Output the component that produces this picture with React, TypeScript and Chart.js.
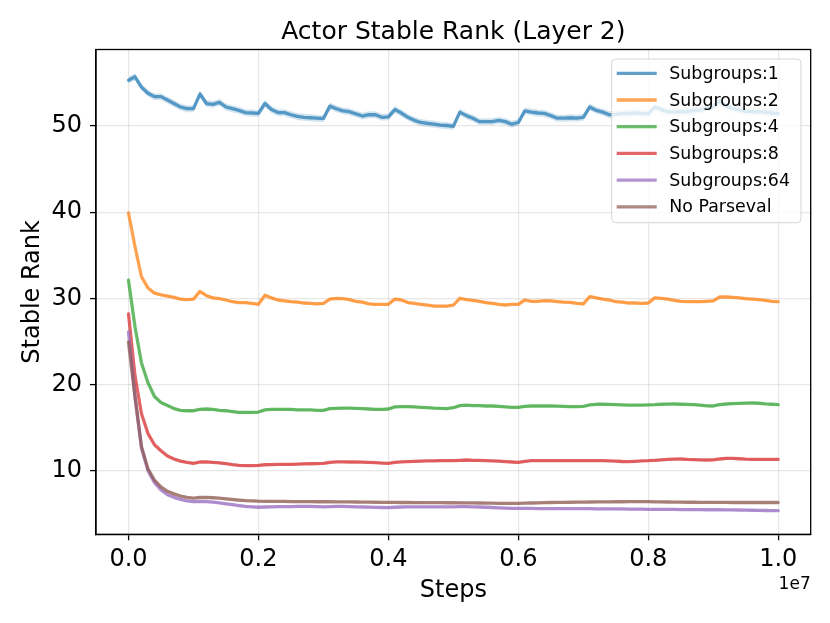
import React, { useEffect, useRef } from "react";
import { Chart, registerables } from "chart.js";

Chart.register(...registerables);

// x positions in units of 1e7 environment steps
const STEPS = [
  0, 0.01, 0.02, 0.03, 0.04, 0.05, 0.06, 0.07, 0.08, 0.09,
  0.1, 0.11, 0.12, 0.13, 0.14, 0.15, 0.16, 0.17, 0.18, 0.19,
  0.2, 0.21, 0.22, 0.23, 0.24, 0.25, 0.26, 0.27, 0.28, 0.29,
  0.3, 0.31, 0.32, 0.33, 0.34, 0.35, 0.36, 0.37, 0.38, 0.39,
  0.4, 0.41, 0.42, 0.43, 0.44, 0.45, 0.46, 0.47, 0.48, 0.49,
  0.5, 0.51, 0.52, 0.53, 0.54, 0.55, 0.56, 0.57, 0.58, 0.59,
  0.6, 0.61, 0.62, 0.63, 0.64, 0.65, 0.66, 0.67, 0.68, 0.69,
  0.7, 0.71, 0.72, 0.73, 0.74, 0.75, 0.76, 0.77, 0.78, 0.79,
  0.8, 0.81, 0.82, 0.83, 0.84, 0.85, 0.86, 0.87, 0.88, 0.89,
  0.9, 0.91, 0.92, 0.93, 0.94, 0.95, 0.96, 0.97, 0.98, 0.99,
  1.0,
];

const SUBGROUPS_1 = [
  55.3, 55.7, 54.5, 53.8, 53.4, 53.4, 53.0, 52.6, 52.2, 52.0,
  52.0, 53.7, 52.6, 52.5, 52.75, 52.2, 52.0, 51.8, 51.55, 51.5,
  51.45, 52.6, 51.9, 51.55, 51.55, 51.3, 51.1, 51.0, 50.95, 50.9,
  50.85, 52.3, 52.0, 51.75, 51.65, 51.4, 51.15, 51.3, 51.3, 51.0,
  51.05, 51.9, 51.5, 51.0, 50.65, 50.4, 50.3, 50.2, 50.1, 50.05,
  49.95, 51.6, 51.2, 50.9, 50.5, 50.5, 50.5, 50.65, 50.5, 50.2,
  50.4, 51.75, 51.6, 51.5, 51.45, 51.2, 50.9, 50.9, 50.95, 50.9,
  51.0, 52.2, 51.8, 51.6, 51.3, 51.35, 51.45, 51.45, 51.5, 51.45,
  51.4, 52.2, 51.9, 51.65, 51.6, 51.65, 51.65, 51.8, 51.85, 52.1,
  52.25, 52.9, 52.3, 52.0, 51.85, 51.7, 51.65, 51.65, 51.6, 51.5,
  51.45,
];

const SUBGROUPS_2 = [
  39.9, 36.0, 32.5, 31.2, 30.6, 30.4, 30.25, 30.1, 29.9, 29.85,
  29.9, 30.8, 30.3, 30.05, 29.95, 29.8, 29.6, 29.5, 29.5, 29.4,
  29.3, 30.35, 30.05, 29.8, 29.7, 29.6, 29.55, 29.45, 29.4, 29.35,
  29.4, 29.9, 30.0, 29.95, 29.85, 29.65, 29.55, 29.35, 29.3, 29.3,
  29.3, 29.9, 29.8, 29.5, 29.4, 29.3, 29.2, 29.1, 29.1, 29.1,
  29.2, 30.0, 29.85, 29.75, 29.65, 29.5, 29.42, 29.3, 29.22, 29.3,
  29.3, 29.8, 29.65, 29.65, 29.72, 29.7, 29.62, 29.55, 29.52, 29.4,
  29.35, 30.2, 30.05, 29.9, 29.8, 29.6, 29.55, 29.45, 29.45, 29.4,
  29.45, 30.05, 30.0, 29.9, 29.75, 29.65, 29.6, 29.6, 29.6, 29.65,
  29.7, 30.15, 30.15, 30.1, 30.05, 29.95, 29.9, 29.85, 29.75, 29.65,
  29.6,
];

const SUBGROUPS_4 = [
  32.1, 26.7, 22.5, 20.2, 18.6, 17.9, 17.55, 17.2, 17.0, 16.95,
  16.95, 17.1, 17.15, 17.1, 17.0, 16.95, 16.85, 16.75, 16.75, 16.75,
  16.8, 17.05, 17.1, 17.1, 17.1, 17.1, 17.05, 17.05, 17.05, 17.0,
  17.0, 17.2, 17.23, 17.25, 17.25, 17.23, 17.2, 17.15, 17.1, 17.1,
  17.15, 17.4, 17.42, 17.42, 17.4, 17.35, 17.3, 17.25, 17.23, 17.2,
  17.3, 17.55, 17.6, 17.55, 17.55, 17.5, 17.5, 17.45, 17.4, 17.35,
  17.35, 17.45, 17.5, 17.5, 17.5, 17.5, 17.48, 17.45, 17.42, 17.42,
  17.45, 17.62, 17.7, 17.7, 17.68, 17.65, 17.62, 17.6, 17.6, 17.6,
  17.62, 17.65, 17.7, 17.72, 17.73, 17.7, 17.68, 17.65, 17.6, 17.52,
  17.5, 17.65, 17.73, 17.78, 17.8, 17.83, 17.85, 17.82, 17.75, 17.7,
  17.65,
];

const SUBGROUPS_8 = [
  28.2, 21.0, 16.6, 14.3, 13.0, 12.3, 11.7, 11.35, 11.1, 10.95,
  10.85, 11.0, 11.02, 10.95, 10.9, 10.8, 10.7, 10.62, 10.58, 10.57,
  10.6, 10.68, 10.7, 10.72, 10.72, 10.73, 10.75, 10.78, 10.8, 10.82,
  10.85, 10.95, 11.02, 11.02, 11.0, 11.0, 10.98, 10.95, 10.92, 10.88,
  10.85, 10.95, 11.02, 11.05, 11.08, 11.1, 11.12, 11.13, 11.15, 11.15,
  11.15, 11.2, 11.23, 11.2, 11.18, 11.15, 11.12, 11.1, 11.05, 11.0,
  10.96, 11.08, 11.15, 11.15, 11.15, 11.15, 11.15, 11.15, 11.15, 11.15,
  11.15, 11.15, 11.15, 11.15, 11.12, 11.1, 11.06, 11.04, 11.08, 11.12,
  11.15, 11.2, 11.25, 11.3, 11.33, 11.35, 11.3, 11.27, 11.24, 11.23,
  11.24, 11.35, 11.42, 11.42, 11.38, 11.33, 11.31, 11.3, 11.3, 11.3,
  11.3,
];

const SUBGROUPS_64 = [
  26.1, 18.6, 12.6, 10.0, 8.6, 7.75, 7.2, 6.9, 6.65, 6.5,
  6.4, 6.42, 6.4, 6.35, 6.25, 6.15, 6.05, 5.95, 5.85, 5.8,
  5.75, 5.78, 5.8, 5.82, 5.83, 5.83, 5.84, 5.85, 5.85, 5.83,
  5.8, 5.82, 5.85, 5.85, 5.82, 5.8, 5.78, 5.76, 5.74, 5.72,
  5.7, 5.75, 5.78, 5.8, 5.8, 5.8, 5.8, 5.8, 5.8, 5.8,
  5.8, 5.82, 5.82, 5.8, 5.78, 5.75, 5.72, 5.68, 5.65, 5.63,
  5.62, 5.62, 5.62, 5.6, 5.6, 5.6, 5.6, 5.58, 5.58, 5.58,
  5.58, 5.58, 5.56, 5.56, 5.55, 5.55, 5.55, 5.53, 5.52, 5.52,
  5.51, 5.51, 5.5, 5.5, 5.5, 5.48, 5.48, 5.47, 5.47, 5.46,
  5.46, 5.46, 5.45, 5.44, 5.43, 5.42, 5.4, 5.38, 5.37, 5.36,
  5.35,
];

const NO_PARSEVAL = [
  24.9, 18.6, 12.8, 10.2, 8.9, 8.1, 7.6, 7.3, 7.05, 6.9,
  6.8, 6.88, 6.9, 6.85, 6.8, 6.72, 6.65, 6.58, 6.52, 6.48,
  6.45, 6.44, 6.43, 6.42, 6.42, 6.41, 6.4, 6.4, 6.4, 6.39,
  6.39, 6.39, 6.38, 6.38, 6.37, 6.36, 6.35, 6.34, 6.33, 6.32,
  6.31, 6.31, 6.3, 6.3, 6.29, 6.28, 6.28, 6.28, 6.28, 6.27,
  6.27, 6.26, 6.26, 6.25, 6.24, 6.23, 6.22, 6.21, 6.2, 6.2,
  6.2, 6.22, 6.24, 6.26, 6.28, 6.3, 6.31, 6.32, 6.33, 6.34,
  6.35, 6.36, 6.37, 6.38, 6.38, 6.39, 6.39, 6.4, 6.4, 6.4,
  6.4, 6.38, 6.37, 6.36, 6.35, 6.34, 6.33, 6.33, 6.32, 6.32,
  6.31, 6.31, 6.31, 6.3, 6.3, 6.3, 6.3, 6.3, 6.3, 6.3,
  6.3,
];

const SERIES_VALUES = [SUBGROUPS_1, SUBGROUPS_2, SUBGROUPS_4, SUBGROUPS_8, SUBGROUPS_64, NO_PARSEVAL];
const SERIES_LABELS = ["Subgroups:1", "Subgroups:2", "Subgroups:4", "Subgroups:8", "Subgroups:64", "No Parseval"];
const SERIES_RGB = ["31,119,180", "255,127,14", "44,160,44", "214,39,40", "148,103,189", "140,86,75"];
// estimated half-width of the shaded spread band per series
const BAND_HALF = [0.4, 0.15, 0.12, 0.12, 0.15, 0.15];

const X_TICKS = [0, 0.2, 0.4, 0.6, 0.8, 1.0];
const Y_TICKS = [10, 20, 30, 40, 50];

const TITLE = "Actor Stable Rank (Layer 2)";
const X_LABEL = "Steps";
const Y_LABEL = "Stable Rank";
const X_OFFSET_TEXT = "1e7";

const FONT = '"DejaVu Sans", "Liberation Sans", sans-serif';

const overlayPlugin = {
  id: "mplOverlay",
  afterDatasetsDraw(chart: any) {
    const { ctx, chartArea: a } = chart;
    ctx.save();
    ctx.strokeStyle = "#000";
    ctx.lineWidth = 1.3;
    ctx.strokeRect(a.left, a.top, a.right - a.left, a.bottom - a.top);
    ctx.restore();
  },
  afterDraw(chart: any) {
    const { ctx, chartArea: a } = chart;
    ctx.save();
    // title
    ctx.fillStyle = "#000";
    ctx.font = `25px ${FONT}`;
    ctx.textAlign = "center";
    ctx.textBaseline = "middle";
    ctx.fillText(TITLE, (a.left + a.right) / 2, 32);
    // offset text
    ctx.font = `17px ${FONT}`;
    ctx.textAlign = "right";
    ctx.fillText(X_OFFSET_TEXT, a.right, 585);

    // legend (inside axes, upper right)
    const boxW = 189.3;
    const boxH = 163.7;
    const boxX = a.right - 9.7 - boxW;
    const boxY = a.top + 9.5;
    const r = 4;
    ctx.beginPath();
    ctx.moveTo(boxX + r, boxY);
    ctx.lineTo(boxX + boxW - r, boxY);
    ctx.quadraticCurveTo(boxX + boxW, boxY, boxX + boxW, boxY + r);
    ctx.lineTo(boxX + boxW, boxY + boxH - r);
    ctx.quadraticCurveTo(boxX + boxW, boxY + boxH, boxX + boxW - r, boxY + boxH);
    ctx.lineTo(boxX + r, boxY + boxH);
    ctx.quadraticCurveTo(boxX, boxY + boxH, boxX, boxY + boxH - r);
    ctx.lineTo(boxX, boxY + r);
    ctx.quadraticCurveTo(boxX, boxY, boxX + r, boxY);
    ctx.closePath();
    ctx.fillStyle = "rgba(255,255,255,0.8)";
    ctx.fill();
    ctx.strokeStyle = "rgba(204,204,204,0.8)";
    ctx.lineWidth = 1;
    ctx.stroke();

    ctx.font = `17.4px ${FONT}`;
    ctx.textAlign = "left";
    ctx.textBaseline = "middle";
    SERIES_LABELS.forEach((label, i) => {
      const cy = boxY + 14.3 + i * 26.7;
      ctx.strokeStyle = `rgba(${SERIES_RGB[i]},0.7)`;
      ctx.lineWidth = 3.3;
      ctx.beginPath();
      ctx.moveTo(boxX + 5, cy);
      ctx.lineTo(boxX + 45, cy);
      ctx.stroke();
      ctx.fillStyle = "#000";
      ctx.fillText(label, boxX + 57.6, cy + 1);
    });
    ctx.restore();
  },
};

export default function App() {
  const canvasRef = useRef<HTMLCanvasElement | null>(null);

  useEffect(() => {
    const canvas = canvasRef.current;
    if (!canvas) return;

    const datasets: any[] = [];
    SERIES_VALUES.forEach((vals, i) => {
      const base = (SERIES_VALUES.length - 1 - i) * 10;
      const rgb = SERIES_RGB[i];
      datasets.push({
        label: SERIES_LABELS[i] + " lower",
        data: STEPS.map((x, k) => ({ x, y: vals[k] - BAND_HALF[i] })),
        borderWidth: 0,
        pointRadius: 0,
        fill: false,
        order: base + 2,
      });
      datasets.push({
        label: SERIES_LABELS[i] + " upper",
        data: STEPS.map((x, k) => ({ x, y: vals[k] + BAND_HALF[i] })),
        borderWidth: 0,
        pointRadius: 0,
        fill: "-1",
        backgroundColor: `rgba(${rgb},0.2)`,
        order: base + 1,
      });
      datasets.push({
        label: SERIES_LABELS[i],
        data: STEPS.map((x, k) => ({ x, y: vals[k] })),
        borderColor: `rgba(${rgb},0.7)`,
        borderWidth: 3.3,
        pointRadius: 0,
        fill: false,
        tension: 0,
        borderJoinStyle: "round",
        borderCapStyle: "round",
        order: base,
      });
    });

    const tickFont = { family: FONT, size: 24 };
    const chart = new Chart(canvas, {
      type: "line",
      data: { datasets },
      plugins: [overlayPlugin],
      options: {
        animation: false,
        responsive: false,
        devicePixelRatio: 1,
        layout: { padding: { top: 49.5, right: 19.3, bottom: 0, left: 0 } },
        plugins: {
          legend: { display: false },
          title: { display: false },
          tooltip: { enabled: false },
        },
        scales: {
          x: {
            type: "linear",
            min: -0.05,
            max: 1.05,
            afterBuildTicks: (scale: any) => {
              scale.ticks = X_TICKS.map((v) => ({ value: v }));
            },
            afterFit: (scale: any) => {
              scale.height = 88.7;
            },
            ticks: {
              font: tickFont,
              color: "#000",
              padding: 5,
              maxRotation: 0,
              autoSkip: false,
              callback: (v: any) => Number(v).toFixed(1),
            },
            grid: {
              color: "rgba(176,176,176,0.3)",
              lineWidth: 1.2,
              drawTicks: true,
              tickLength: 6,
              tickColor: "#000",
              tickWidth: 1.3,
            },
            border: { display: true, color: "#000", width: 1.3 },
            title: {
              display: true,
              text: X_LABEL,
              font: { family: FONT, size: 24 },
              color: "#000",
              padding: { top: 0, bottom: 18 },
            },
          },
          y: {
            type: "linear",
            min: 2.61,
            max: 58.87,
            afterBuildTicks: (scale: any) => {
              scale.ticks = Y_TICKS.map((v) => ({ value: v }));
            },
            afterFit: (scale: any) => {
              scale.width = 96;
            },
            ticks: {
              font: tickFont,
              color: "#000",
              padding: 8,
              autoSkip: false,
              callback: (v: any) => String(v),
            },
            grid: {
              color: "rgba(176,176,176,0.3)",
              lineWidth: 1.2,
              drawTicks: true,
              tickLength: 6,
              tickColor: "#000",
              tickWidth: 1.3,
            },
            border: { display: true, color: "#000", width: 1.3 },
            title: {
              display: true,
              text: Y_LABEL,
              font: { family: FONT, size: 24 },
              color: "#000",
              padding: { top: 18.6, bottom: 0 },
            },
          },
        },
      } as any,
    });

    return () => {
      chart.destroy();
    };
  }, []);

  return (
    <div style={{ position: "absolute", left: 0, top: 0, width: 830, height: 623, background: "#fff" }}>
      <canvas ref={canvasRef} width={830} height={623} style={{ width: 830, height: 623, display: "block" }} />
    </div>
  );
}
